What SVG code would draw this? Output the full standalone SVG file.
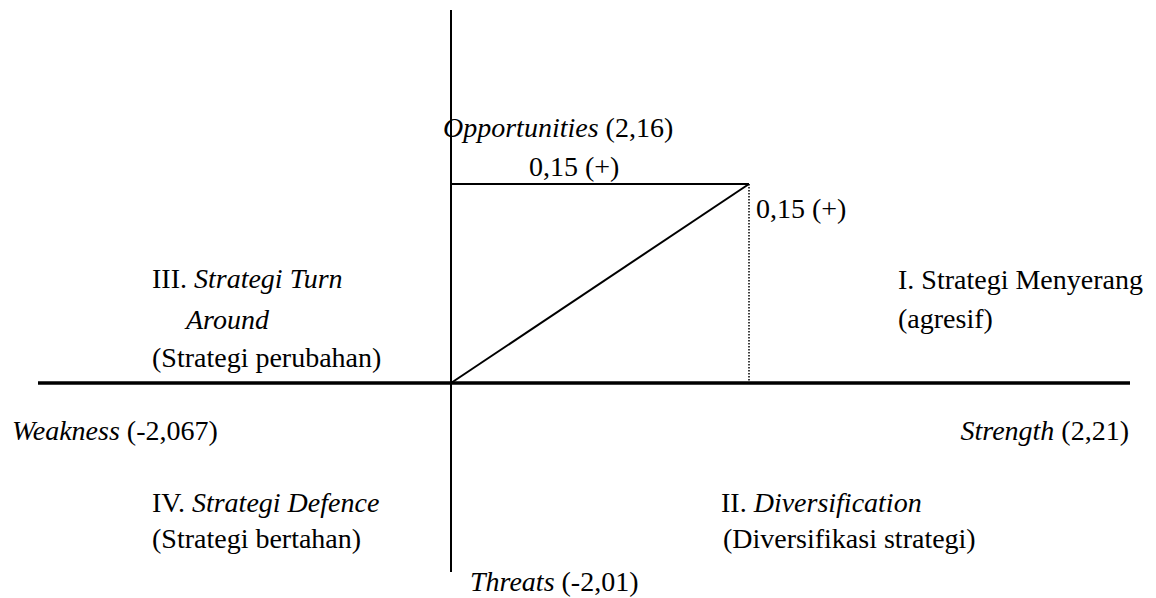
<svg xmlns="http://www.w3.org/2000/svg" width="1156" height="598" viewBox="0 0 1156 598">
<style>
text{font-family:"Liberation Serif","Times New Roman",serif;font-size:28px;fill:#000}
.i{font-style:italic}
.ax{stroke:#000;fill:none}
</style>
<rect width="1156" height="598" fill="#fff"/>
<g id="connectors">
<line class="ax" x1="451" y1="10" x2="451" y2="572" stroke-width="2"/>
<line class="ax" x1="38" y1="383" x2="1130" y2="383" stroke-width="3.5"/>
<line class="ax" x1="451" y1="184" x2="749" y2="184" stroke-width="2"/>
<line class="ax" x1="451" y1="383" x2="749" y2="184" stroke-width="2"/>
<line class="ax" x1="749" y1="184" x2="749" y2="382" stroke-width="1.5" stroke-dasharray="1.5 1.5"/>
</g>
<g id="opportunities"><text x="443" y="137"><tspan class="i">Opportunities</tspan> (2,16)</text></g>
<g id="label-top"><text x="529" y="176">0,15 (+)</text></g>
<g id="label-right"><text x="756" y="218">0,15 (+)</text></g>
<g id="q3">
<text x="152" y="288">III. <tspan class="i">Strategi Turn</tspan></text>
<text x="186" y="329" class="i">Around</text>
<text x="152" y="367">(Strategi perubahan)</text>
</g>
<g id="q1">
<text x="898" y="289">I. Strategi Menyerang</text>
<text x="898" y="328">(agresif)</text>
</g>
<g id="weakness"><text x="12" y="440"><tspan class="i">Weakness</tspan> (-2,067)</text></g>
<g id="strength"><text x="1129" y="440" text-anchor="end"><tspan class="i">Strength</tspan> (2,21)</text></g>
<g id="q4">
<text x="152" y="512">IV. <tspan class="i">Strategi Defence</tspan></text>
<text x="152" y="548">(Strategi bertahan)</text>
</g>
<g id="q2">
<text x="721" y="512">II. <tspan class="i">Diversification</tspan></text>
<text x="723" y="548">(Diversifikasi strategi)</text>
</g>
<g id="threats"><text x="470" y="591"><tspan class="i">Threats</tspan> (-2,01)</text></g>
</svg>
